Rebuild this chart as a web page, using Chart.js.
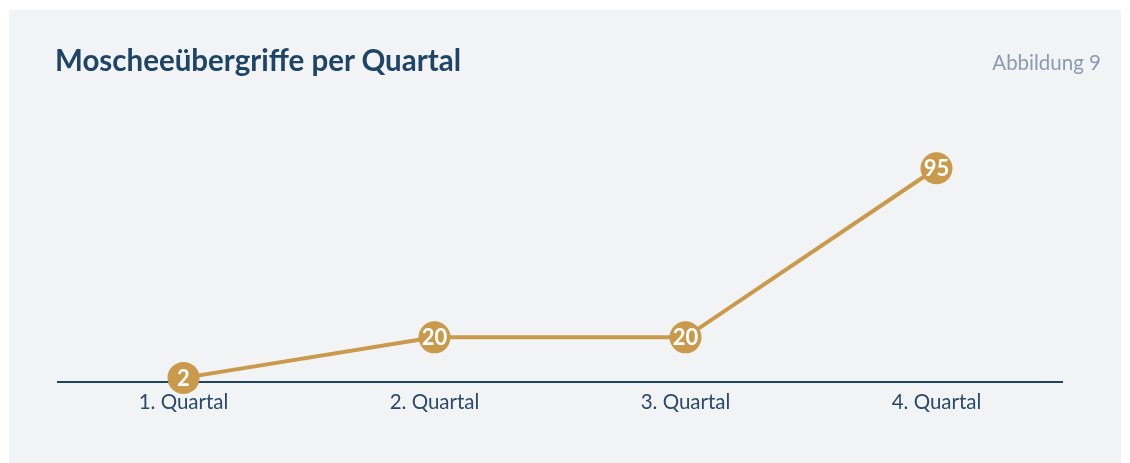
<!DOCTYPE html>
<html>
<head>
<meta charset="utf-8">
<script src="https://cdn.jsdelivr.net/npm/chart.js@4.4.1/dist/chart.umd.min.js"></script>
<style>
  body { margin: 0; background: #ffffff; width: 1130px; height: 463px; overflow: hidden; font-family: Lato, sans-serif; }
  #panel { position: absolute; left: 9px; top: 10px; width: 1112px; height: 453px; background: #f2f3f5; }
  #title { position: absolute; left: 46px; top: 32px; font-size: 29.5px; font-weight: bold; color: #1e4466; }
  #fig { position: absolute; right: 20px; top: 40px; font-size: 20.5px; color: #8a9bb0; }
  #wrap { position: absolute; left: 0; top: 0; width: 1112px; height: 453px; }
</style>
</head>
<body>
<div id="panel">
  <div id="wrap"><canvas id="myChart"></canvas></div>
  <div id="title">Moscheeübergriffe per Quartal</div>
  <div id="fig">Abbildung 9</div>
</div>
<script>
var quarters = ['1. Quartal', '2. Quartal', '3. Quartal', '4. Quartal'];
var attacks = [2, 20, 20, 95];

var gold = '#c99a4b';
var navy = '#1f4466';

// writes the value inside each point
var valueLabels = {
  id: 'valueLabels',
  afterDatasetsDraw: function(chart) {
    var ctx = chart.ctx;
    var meta = chart.getDatasetMeta(0);
    ctx.save();
    ctx.fillStyle = '#ffffff';
    ctx.font = 'bold 22px Lato';
    ctx.textAlign = 'center';
    ctx.textBaseline = 'middle';
    meta.data.forEach(function(pt, i) {
      ctx.fillText(String(attacks[i]), pt.x, pt.y + 1);
    });
    ctx.restore();
  }
};

var ctx = document.getElementById('myChart').getContext('2d');
var myChart = new Chart(ctx, {
  type: 'line',
  data: {
    labels: quarters,
    datasets: [{
      data: attacks,
      borderColor: gold,
      borderWidth: 4,
      backgroundColor: gold,
      pointBackgroundColor: gold,
      pointBorderWidth: 0,
      pointRadius: 16,
      pointHoverRadius: 16,
      tension: 0,
      clip: false
    }]
  },
  options: {
    responsive: true,
    maintainAspectRatio: false,
    animation: false,
    layout: { padding: { left: 49, right: 59, top: 147, bottom: 48 } },
    plugins: { legend: { display: false }, tooltip: { enabled: false } },
    scales: {
      x: {
        offset: true,
        grid: { display: false },
        border: { display: true, color: navy, width: 2 },
        ticks: { color: '#2a4a6a', font: { family: 'Lato', size: 20.5 }, padding: 0 }
      },
      y: {
        display: false,
        min: 0,
        max: 100
      }
    }
  },
  plugins: [valueLabels]
});
</script>
</body>
</html>
